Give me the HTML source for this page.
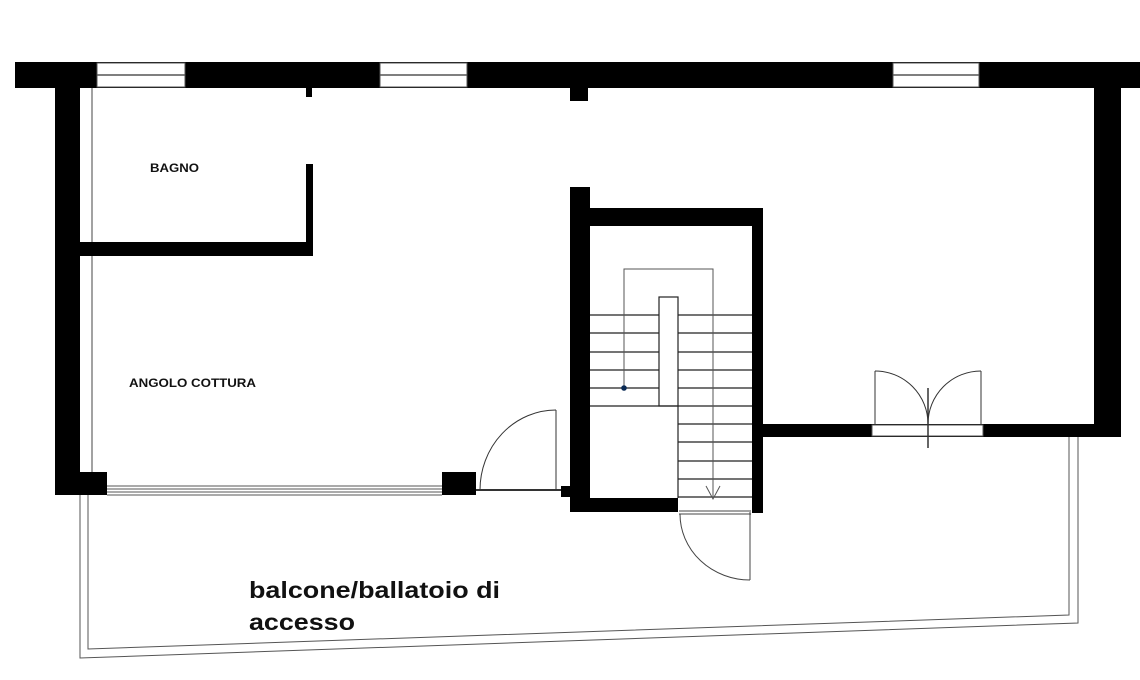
<!DOCTYPE html>
<html><head><meta charset="utf-8"><style>html,body{margin:0;padding:0;background:#fff}svg{display:block}</style></head>
<body>
<svg width="1140" height="680" viewBox="0 0 1140 680" xmlns="http://www.w3.org/2000/svg" font-family="Liberation Sans, Arial, sans-serif">
<rect width="1140" height="680" fill="#fff"/>
<line x1="92" y1="88" x2="92" y2="472" stroke="#444" stroke-width="1"/>
<g fill="#000">
<rect x="15" y="62" width="1125" height="26"/>
<rect x="55" y="62" width="25" height="433"/>
<rect x="80" y="472" width="27" height="23"/>
<rect x="306" y="88" width="6" height="9"/>
<rect x="570" y="88" width="18" height="13"/>
<rect x="306" y="164" width="7" height="92"/>
<rect x="80" y="242" width="233" height="14"/>
<rect x="1094" y="62" width="27" height="375"/>
<rect x="762" y="424" width="359" height="13"/>
<rect x="570" y="187" width="20" height="325"/>
<rect x="590" y="208" width="173" height="18"/>
<rect x="752" y="208" width="11" height="305"/>
<rect x="570" y="498" width="108" height="14"/>
<rect x="442" y="472" width="34" height="23"/>
<rect x="561" y="486" width="9" height="11"/>
</g>
<g fill="#fff" stroke="#555" stroke-width="1">
<rect x="97" y="63" width="88" height="24"/>
<rect x="380" y="63" width="87" height="24"/>
<rect x="893" y="63" width="86" height="24"/>
<rect x="872" y="425" width="111" height="11"/>
</g>
<g stroke="#555" stroke-width="1.5">
<line x1="97" y1="75" x2="185" y2="75"/>
<line x1="380" y1="75" x2="467" y2="75"/>
<line x1="893" y1="75" x2="979" y2="75"/>
</g>
<g stroke="#555" stroke-width="1">
<line x1="107" y1="486" x2="442" y2="486"/>
<line x1="107" y1="489" x2="442" y2="489"/>
<line x1="107" y1="492" x2="442" y2="492"/>
<line x1="107" y1="495" x2="442" y2="495"/>
</g>
<g fill="none" stroke="#333" stroke-width="1">
<line x1="476" y1="490" x2="561" y2="490" stroke-width="2"/>
<line x1="556" y1="490" x2="556" y2="410"/>
<path d="M480 490 A76 80 0 0 1 556 410"/>
</g>
<g fill="none" stroke="#222" stroke-width="1.2">
<rect x="659" y="297" width="19" height="109"/>
<line x1="590" y1="315" x2="659" y2="315"/>
<line x1="590" y1="333" x2="659" y2="333"/>
<line x1="590" y1="352" x2="659" y2="352"/>
<line x1="590" y1="370" x2="659" y2="370"/>
<line x1="590" y1="388" x2="659" y2="388"/>
<line x1="590" y1="406" x2="678" y2="406"/>
<line x1="678" y1="315" x2="752" y2="315"/>
<line x1="678" y1="333" x2="752" y2="333"/>
<line x1="678" y1="352" x2="752" y2="352"/>
<line x1="678" y1="370" x2="752" y2="370"/>
<line x1="678" y1="388" x2="752" y2="388"/>
<line x1="678" y1="406" x2="752" y2="406"/>
<line x1="678" y1="424" x2="752" y2="424"/>
<line x1="678" y1="442" x2="752" y2="442"/>
<line x1="678" y1="461" x2="752" y2="461"/>
<line x1="678" y1="479" x2="752" y2="479"/>
<line x1="678" y1="497" x2="752" y2="497"/>
<line x1="678" y1="406" x2="678" y2="498"/>
</g>
<g fill="none" stroke="#555" stroke-width="1">
<polyline points="624,388 624,269 713,269 713,499"/>
<polyline points="706,486 713,499 720,486"/>
</g>
<circle cx="624" cy="388" r="2.8" fill="#0a2a55"/>
<g fill="none" stroke="#444" stroke-width="1">
<line x1="679" y1="511" x2="751" y2="511"/>
<line x1="679" y1="514" x2="751" y2="514"/>
<line x1="750" y1="512" x2="750" y2="580"/>
<path d="M680 514 A70 66 0 0 0 750 580"/>
</g>
<g fill="none" stroke="#333" stroke-width="1">
<line x1="875" y1="425" x2="875" y2="371"/>
<line x1="981" y1="425" x2="981" y2="371"/>
<path d="M875 371 A53 53 0 0 1 928 424"/>
<path d="M981 371 A53 53 0 0 0 928 424"/>
<line x1="928" y1="388" x2="928" y2="448" stroke-width="1.5"/>
</g>
<g fill="none" stroke="#555" stroke-width="1">
<polyline points="80,495 80,658 1078,623 1078,437"/>
<polyline points="88,495 88,649 1069,615 1069,437"/>
</g>
<g font-weight="bold" fill="#111">
<text x="150" y="172" font-size="11.5" textLength="49" lengthAdjust="spacingAndGlyphs">BAGNO</text>
<text x="129" y="387" font-size="12" textLength="127" lengthAdjust="spacingAndGlyphs">ANGOLO COTTURA</text>
<text x="249" y="598" font-size="23" textLength="251" lengthAdjust="spacingAndGlyphs">balcone/ballatoio di</text>
<text x="249" y="630" font-size="23" textLength="106" lengthAdjust="spacingAndGlyphs">accesso</text>
</g>
</svg>
</body></html>
